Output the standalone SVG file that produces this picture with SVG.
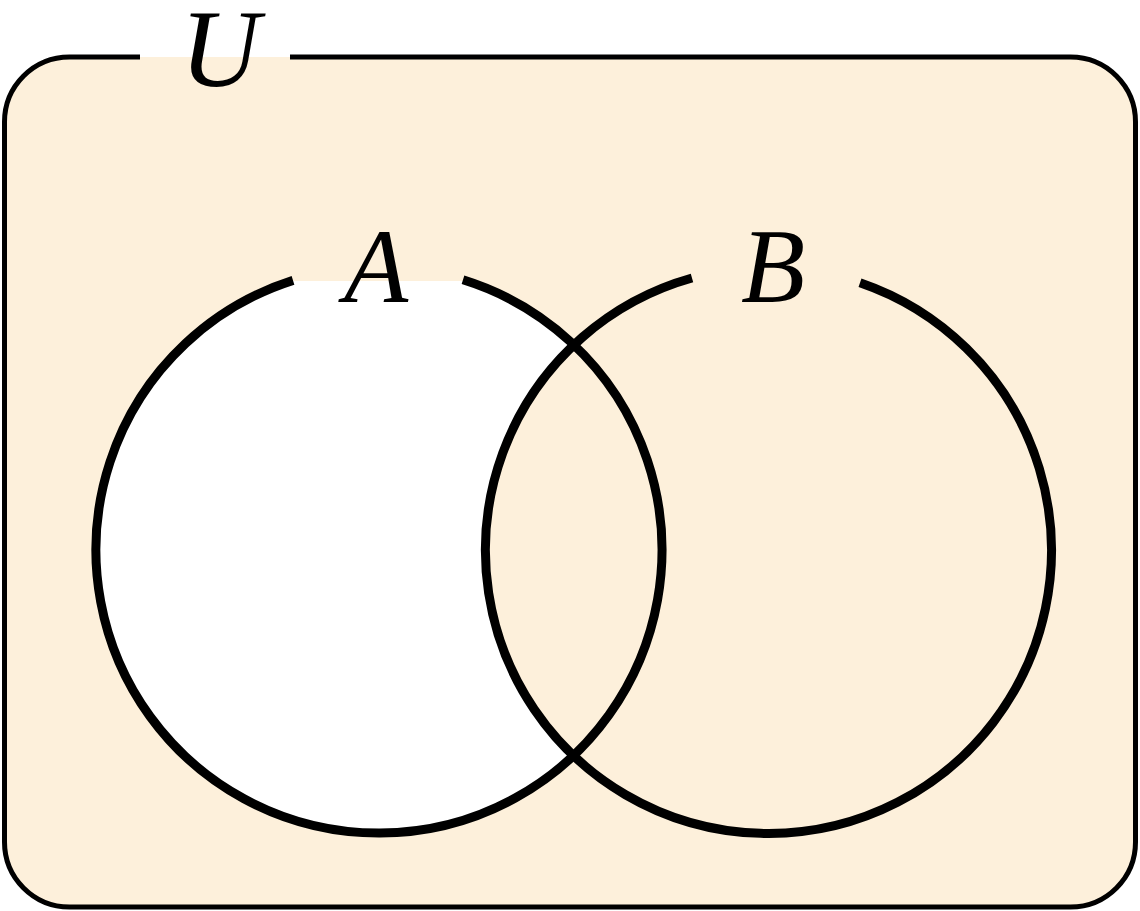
<svg xmlns="http://www.w3.org/2000/svg" width="1140" height="911" viewBox="0 0 1140 911">
  <style>
    .bg { fill: #FDF0DB; stroke: none; }
    .edge { fill: none; stroke: #000; stroke-width: 9; stroke-linecap: butt; }
    .frame { fill: none; stroke: #000; stroke-width: 5; }
    .lbl { font-family: "Liberation Serif", "DejaVu Serif", serif; font-style: italic; fill: #000; text-anchor: middle; }
  </style>
  <rect width="1140" height="911" fill="#ffffff"/>
  <g id="universe">
    <rect class="bg" x="4.5" y="57" width="1131" height="850" rx="65" ry="65"/>
    <path class="frame" d="M 290 57 H 1070.5 A 65 65 0 0 1 1135.5 122 V 842 A 65 65 0 0 1 1070.5 907 H 69.5 A 65 65 0 0 1 4.5 842 V 122 A 65 65 0 0 1 69.5 57 H 140"/>
    <text class="lbl" x="220" y="86" font-size="110">U</text>
  </g>
  <g id="regions">
    <circle cx="379" cy="550" r="283" fill="#ffffff"/>
    <circle cx="768.5" cy="550" r="283" class="bg"/>
    <rect class="bg" x="293" y="225" width="170" height="56"/>
  </g>
  <g id="setA">
    <path class="edge" d="M 463 279.8 A 283 283 0 1 1 293 280.4"/>
    <text class="lbl" x="376" y="302" font-size="105">A</text>
  </g>
  <g id="setB">
    <path class="edge" d="M 860 282.7 A 283 283 0 1 1 692 278"/>
    <text class="lbl" x="773" y="302" font-size="105">B</text>
  </g>
</svg>
